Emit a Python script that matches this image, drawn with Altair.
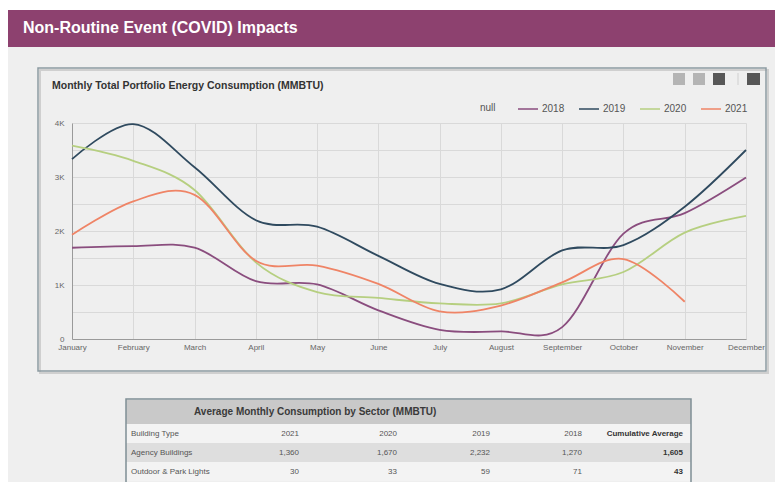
import altair as alt
import pandas as pd

# ---------------- data ----------------
months = ["January", "February", "March", "April", "May", "June", "July",
          "August", "September", "October", "November", "December"]
years = ["2018", "2019", "2020", "2021"]
v2018 = [1690, 1720, 1690, 1070, 1010, 530, 170, 140, 220, 1950, 2330, 2990]
v2019 = [3330, 3980, 3180, 2200, 2080, 1540, 1020, 920, 1640, 1740, 2450, 3500]
v2020 = [3580, 3300, 2760, 1420, 870, 760, 660, 660, 1010, 1240, 1970, 2280]
v2021 = [1930, 2550, 2670, 1450, 1360, 1020, 510, 620, 1050, 1480, 690, None]
line_colors = ["#8a4d7e", "#2f4a5f", "#b6cf80", "#ef8466"]

page_title = "Non-Routine Event (COVID) Impacts"
chart_title = "Monthly Total Portfolio Energy Consumption (MMBTU)"
legend_title = "null"
table_title = "Average Monthly Consumption by Sector (MMBTU)"
table_header = ["Building Type", "2021", "2020", "2019", "2018", "Cumulative Average"]
sectors = ["Agency Buildings", "Outdoor & Park Lights"]
agency = [1360, 1670, 2232, 1270, 1605]
outdoor = [30, 33, 59, 71, 43]

# ---------------- tables ----------------
series = {"2018": v2018, "2019": v2019, "2020": v2020, "2021": v2021}
line_rows = []
for y in years:
    for m, v in zip(months, series[y]):
        if v is not None:
            line_rows.append({"month": m, "year": y, "value": v})
line_df = pd.DataFrame(line_rows)

tab_rows = []
for c, t in enumerate(table_header):
    tab_rows.append({"row": 0, "col": c, "text": t})
for r, (name, vals) in enumerate(zip(sectors, [agency, outdoor]), start=1):
    tab_rows.append({"row": r, "col": 0, "text": name})
    for c, v in enumerate(vals, start=1):
        tab_rows.append({"row": r, "col": c, "text": f"{v:,}"})
tab_df = pd.DataFrame(tab_rows)
band_df = pd.DataFrame({"row": [0, 1, 2]})

FONT = "Liberation Sans"
one = pd.DataFrame({"k": [0]})


def rect(x, x2, y, y2, **kw):
    return alt.Chart(one).mark_rect(**kw).encode(
        x=alt.value(x), x2=alt.value(x2), y=alt.value(y), y2=alt.value(y2))


def label(text, x, y, **kw):
    return alt.Chart(pd.DataFrame({"t": [text]})).mark_text(font=FONT, baseline="middle", **kw).encode(
        x=alt.value(x), y=alt.value(y), text="t:N")


# ---------------- decorations ----------------
white_top = rect(-72, 720, -125, -113, fill="#ffffff")
header = rect(-64, 720, -113, -76, fill="#8d416f")
header_txt = label(page_title, -49, -95, align="left", fontSize=16, fontWeight="bold", color="#ffffff")
panel_shadow = rect(-32, 696, -53, 250, fillOpacity=0, stroke="#cfcfcf", strokeWidth=2)
panel = rect(-34, 694, -55, 248, fillOpacity=0, stroke="#8d9ca2", strokeWidth=1.5)
title_txt = label(chart_title, -20, -37, align="left", fontSize=10.5, fontWeight="bold", color="#333333")
legend_txt = label(legend_title, 408, -15, align="left", fontSize=10, color="#555555")
icons = (rect(601, 613, -50, -38, fill="#b4b4b4")
         + rect(621, 633, -50, -38, fill="#b4b4b4")
         + rect(641, 653, -50, -38, fill="#575757")
         + rect(665.5, 666.5, -50, -38, fill="#d0d0d0")
         + rect(675, 688, -50, -38, fill="#575757"))

# ---------------- line chart ----------------
lines = alt.Chart(line_df).mark_line(interpolate="cardinal", strokeWidth=1.8).encode(
    x=alt.X("month:N", sort=months, title=None,
            scale=alt.Scale(type="point", padding=0),
            axis=alt.Axis(labelAngle=0, labelFontSize=8, labelColor="#666666", labelFont=FONT,
                          ticks=False, labelPadding=4, domainColor="#9a9a9a",
                          gridColor="#d9d9d9", grid=True)),
    y=alt.Y("value:Q", title=None, scale=alt.Scale(domain=[0, 4000], nice=False),
            axis=alt.Axis(values=list(range(0, 4001, 500)), labelFontSize=8, labelColor="#666666",
                          labelFont=FONT, ticks=False, labelPadding=8, domainColor="#9a9a9a",
                          gridColor="#d9d9d9",
                          labelExpr="datum.value == 0 ? '0' : (datum.value % 1000 == 0 ? (datum.value / 1000) + 'K' : '')")),
    color=alt.Color("year:N", scale=alt.Scale(domain=years, range=line_colors),
                    legend=alt.Legend(title=None, orient="none",
                                      legendX=445, legendY=-25, direction="horizontal",
                                      symbolType="stroke", symbolSize=400, symbolStrokeWidth=1.5,
                                      labelFontSize=10, labelFont=FONT, labelColor="#555555",
                                      labelOffset=3, columnPadding=11, padding=0)),
)

# ---------------- table ----------------
tx = alt.Scale(domain=[0, 1, 2, 3, 4, 5], range=[59, 227, 325, 418, 510, 611], nice=False, zero=False)
ty = alt.Scale(domain=[0, 3], range=[301, 358], nice=False, zero=False)

bands = alt.Chart(band_df).transform_calculate(row2="datum.row + 1").mark_rect().encode(
    x=alt.value(54), x2=alt.value(619),
    y=alt.Y("row:Q", scale=ty, axis=None), y2="row2:Q",
    fill=alt.condition(alt.datum.row == 1, alt.value("#dedede"), alt.value("#f3f3f3")),
)
tab_head = rect(54, 619, 277, 301, fill="#c9c9c9")
tab_box = rect(54, 619, 276, 361, fillOpacity=0, stroke="#7f8f95", strokeWidth=1.5)
tab_title = label(table_title, 122, 289, align="left", fontSize=10, fontWeight="bold", color="#3a3a3a")

tbase = alt.Chart(tab_df).transform_calculate(rc="datum.row + 0.5")
t_left = tbase.transform_filter("datum.col == 0").mark_text(
    align="left", baseline="middle", font=FONT, fontSize=8, color="#555555").encode(
    x=alt.X("col:Q", scale=tx, axis=None), y=alt.Y("rc:Q", scale=ty, axis=None), text="text:N")
t_vals = tbase.transform_filter("datum.col > 0 && datum.col < 5").mark_text(
    align="right", baseline="middle", font=FONT, fontSize=8, color="#555555").encode(
    x=alt.X("col:Q", scale=tx, axis=None), y=alt.Y("rc:Q", scale=ty, axis=None), text="text:N")
t_bold = tbase.transform_filter("datum.col == 5").mark_text(
    align="right", baseline="middle", font=FONT, fontSize=8, fontWeight="bold", color="#333333").encode(
    x=alt.X("col:Q", scale=tx, axis=None), y=alt.Y("rc:Q", scale=ty, axis=None), text="text:N")

chart = alt.layer(
    white_top, header, header_txt, panel_shadow, panel, title_txt, legend_txt, icons,
    lines, bands, tab_head, tab_box, tab_title, t_left, t_vals, t_bold,
).resolve_scale(x="independent", y="independent").properties(
    width=674, height=216,
    autosize=alt.AutoSizeParams(type="none"),
    padding={"left": 64, "top": 115, "right": 29, "bottom": 143},
).configure(background="#efefef", font=FONT).configure_view(stroke=None)

chart.save("out.html", embed_options={"renderer": "svg", "actions": False})
